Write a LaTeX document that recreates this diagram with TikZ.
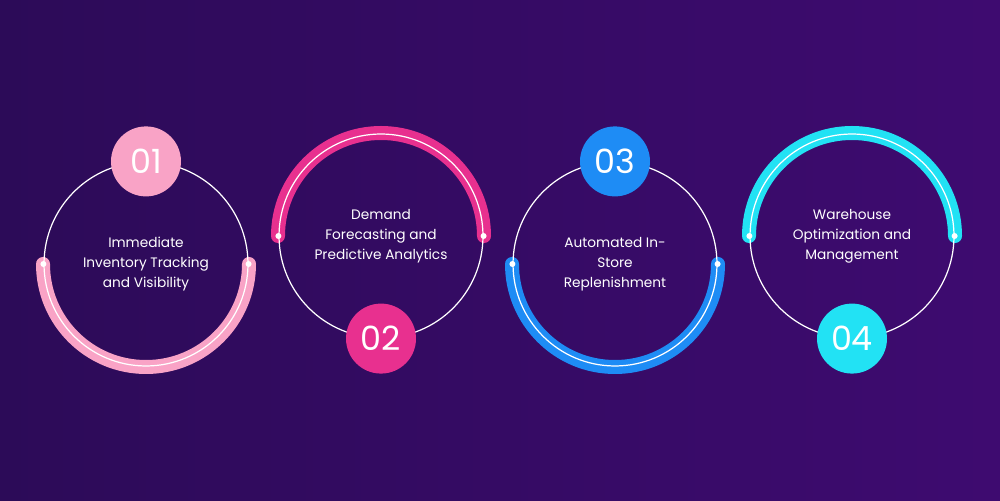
\documentclass[tikz,border=0pt]{standalone}
\usepackage{fontspec}
\setmainfont{Poppins}
\usetikzlibrary{positioning}
\definecolor{bgL}{HTML}{2C0B58}
\definecolor{bgR}{HTML}{3E0B70}
\definecolor{pinkA}{HTML}{F9A3C6}
\definecolor{magA}{HTML}{E8308F}
\definecolor{blueA}{HTML}{1E8CF5}
\definecolor{cyanA}{HTML}{22E2F4}

\tikzset{
  ring/.style={circle, draw=white, line width=0.7pt, minimum size=4.08cm, inner sep=0pt},
  badge/.style={circle, minimum size=1.4cm, inner sep=0pt, text=white, font=\fontsize{19}{19}\selectfont},
  label/.style={text=white, align=center, font=\fontsize{7.8}{11.5}\selectfont},
  band/.style={line width=0.28cm, line cap=round},
  dot/.style={circle, fill=white, inner sep=0pt, minimum size=0.12cm}
}

\begin{document}
\begin{tikzpicture}[x=0.02cm,y=0.02cm]
	\shade[left color=bgL, right color=bgR] (0,0) rectangle (1000,500);
	\useasboundingbox (0,0) rectangle (1000,500);

	% rings with their bands
	\foreach \n/\cx/\cy/\col/\a in {1/146/236/pinkA/180, 2/381/264/magA/0, 3/615/236/blueA/180, 4/852/264/cyanA/0} {
		\draw[band, \col] (\cx,\cy) ++(\a:103) arc (\a:\a+180:103);
		\node[ring] (c\n) at (\cx,\cy) {};
		\node[dot] (d\n a) at (c\n.\a) {};
		\node[dot] (d\n b) at (c\n.\a+180) {};
	}

	% badges
	\node[badge, fill=pinkA] (b1) at (c1.north) {01};
	\node[badge, fill=magA] (b2) at (c2.south) {02};
	\node[badge, fill=blueA] (b3) at (c3.north) {03};
	\node[badge, fill=cyanA] (b4) at (c4.south) {04};

	% texts
	\node[label] (t1) at (c1) {Immediate\\Inventory Tracking\\and Visibility};
	\node[label] (t2) at (c2) {Demand\\Forecasting and\\Predictive Analytics};
	\node[label] (t3) at (c3) {Automated In-\\Store\\Replenishment};
	\node[label] (t4) at (c4) {Warehouse\\Optimization and\\Management};
\end{tikzpicture}
\end{document}
